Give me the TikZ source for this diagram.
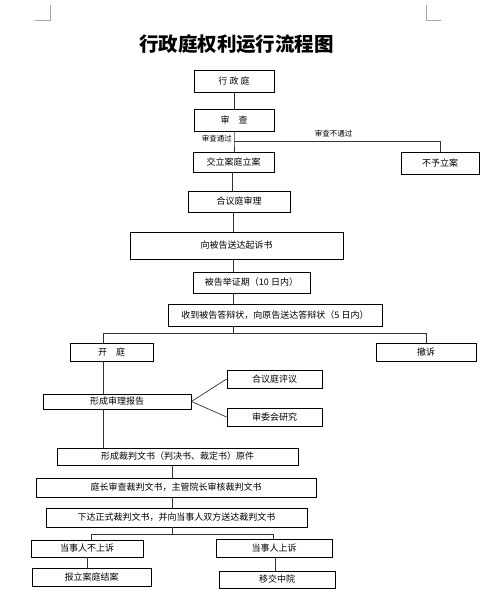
\documentclass[tikz,border=0pt]{standalone}
\usepackage{fontspec}
\newfontfamily\cjk{Noto Sans CJK SC}

\begin{document}
\begin{tikzpicture}[x=1pt, y=-1pt,
  box/.style={draw=black, line width=0.8pt, fill=white, inner sep=0pt,
    font=\cjk\fontsize{9}{10}\selectfont},
  link/.style={draw=black!80, line width=0.7pt},
  tag/.style={inner sep=0pt, font=\cjk\fontsize{7.5}{8}\selectfont}]

\useasboundingbox (0,0) rectangle (500,603);

% Corner marks
\draw[gray!70, line width=0.8pt] (50,5) -- (50,20) -- (35,20);
\draw[gray!70, line width=0.8pt] (426,5) -- (426,20) -- (441,20);

% Title
\node[font=\cjk\bfseries\fontsize{19.5}{22}\selectfont] (title) at (236.5,44) {行政庭权利运行流程图};

% Filing
\node[box, minimum width=80pt, minimum height=22pt] (xzt) at (234,81) {行\ 政\ 庭};
\node[box, minimum width=80pt, minimum height=22pt] (sc) at (234,120) {审\quad 查};
\node[box, minimum width=81pt, minimum height=20pt] (jl) at (233.5,162) {交立案庭立案};
\node[box, minimum width=78pt, minimum height=22pt] (by) at (440,163) {不予立案};

% Trial preparation
\node[box, minimum width=102pt, minimum height=21pt] (hy) at (239,201.5) {合议庭审理};
\node[box, minimum width=213pt, minimum height=27pt] (qs) at (236.5,245.5) {向被告送达起诉书};
\node[box, minimum width=117pt, minimum height=21pt] (jz) at (251.5,282.5) {被告举证期（10 日内）};
\node[box, minimum width=214pt, minimum height=22pt] (db) at (275,315) {收到被告答辩状，向原告送达答辩状（5 日内）};

% Hearing
\node[box, minimum width=83pt, minimum height=18pt] (kt) at (111.5,352) {开\quad 庭};
\node[box, minimum width=100pt, minimum height=18pt] (cs) at (426,352) {撤诉};
\node[box, minimum width=95pt, minimum height=18pt] (py) at (274.5,379) {合议庭评议};
\node[box, minimum width=148pt, minimum height=15pt] (bg) at (117,401.5) {形成审理报告};
\node[box, minimum width=95pt, minimum height=18pt] (sw) at (274.5,417) {审委会研究};

% Judgment
\node[box, minimum width=241pt, minimum height=17pt] (yj) at (177.5,456.5) {形成裁判文书（判决书、裁定书）原件};
\node[box, minimum width=280pt, minimum height=19pt] (sh) at (176,487.5) {庭长审查裁判文书，主管院长审核裁判文书};
\node[box, minimum width=261pt, minimum height=19pt] (xd) at (176.5,517.5) {下达正式裁判文书，并向当事人双方送达裁判文书};

% Appeal
\node[box, minimum width=112pt, minimum height=17pt] (bss) at (87,548.5) {当事人不上诉};
\node[box, minimum width=116pt, minimum height=18pt] (ss) at (274,548) {当事人上诉};
\node[box, minimum width=119pt, minimum height=18pt] (ja) at (91.5,577) {报立案庭结案};
\node[box, minimum width=116pt, minimum height=17pt] (yz) at (277,579.5) {移交中院};

% Split points
\coordinate (split) at (234,141);
\coordinate (spine) at (233,0);
\coordinate (split2) at (233,333);
\coordinate (left) at (103,0);
\coordinate (split3) at (172,534);

% Connectors
\draw[link] (xzt.south) -- (sc.north);
\draw[link] (sc.south) -- (split) -- (split |- jl.north);
\draw[link] (split) -| (by.north);
\draw[link] (232,0 |- jl.south) -- (232,0 |- hy.north);
\draw[link] (spine |- hy.south) -- (spine |- qs.north);
\draw[link] (spine |- qs.south) -- (spine |- jz.north);
\draw[link] (spine |- jz.south) -- (spine |- db.north);
\draw[link] (spine |- db.south) -- (split2);
\draw[link] (split2) -| (left |- kt.north);
\draw[link] (split2) -| (cs.north);
\draw[link] (left |- kt.south) -- (left |- bg.north);
\draw[link] (left |- bg.south) -- (left |- yj.north);
\draw[link] (bg.east) -- (py.west);
\draw[link] (bg.east) -- (sw.west);
\draw[link] (split3 |- yj.south) -- (split3 |- sh.north);
\draw[link] (split3 |- sh.south) -- (split3 |- xd.north);
\draw[link] (split3 |- xd.south) -- (split3);
\draw[link] (split3) -| (91,0 |- bss.north);
\draw[link] (split3) -| (273,0 |- ss.north);
\draw[link] (87,0 |- bss.south) -- (87,0 |- ja.north);
\draw[link] (275,0 |- ss.south) -- (275,0 |- yz.north);

% Branch labels
\node[tag, anchor=east] (pass) at (232,139) {审查通过};
\node[tag] (fail) at (333.5,134) {审查不通过};

\end{tikzpicture}
\end{document}
